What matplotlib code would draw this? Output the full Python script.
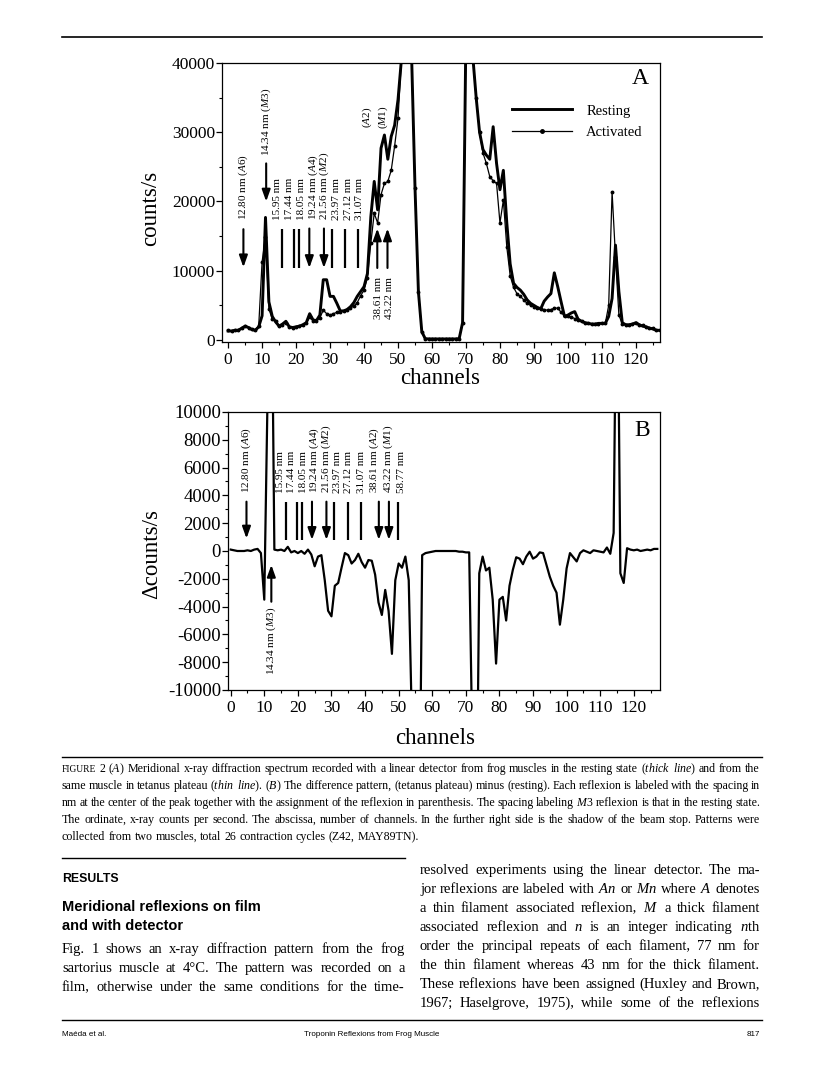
import re
import numpy as np
import matplotlib
matplotlib.use("Agg")
import matplotlib.pyplot as plt
from matplotlib.ticker import MultipleLocator

plt.rcParams['font.family'] = ['Liberation Serif', 'DejaVu Serif']
plt.rcParams['mathtext.fontset'] = 'custom'
plt.rcParams['mathtext.rm'] = 'Liberation Serif'
plt.rcParams['mathtext.it'] = 'Liberation Serif:italic'
plt.rcParams['mathtext.bf'] = 'Liberation Serif:bold'
plt.rcParams['axes.unicode_minus'] = False

# ---------------- data ----------------
channels = list(range(128))

resting = [1300, 1300, 1400, 1400, 1700, 2000, 1800, 1500, 1400, 1900,
           3500, 17700, 5500, 3400, 2600, 2000, 2300, 2700, 1900, 1800,
           1900, 2000, 2200, 2500, 3800, 2900, 2800, 3600, 8700, 8700,
           6300, 6300, 5300, 4200, 4200, 4400, 4800, 5400, 6300, 7000,
           7700, 9600, 17800, 22900, 18800, 27700, 29600, 26100, 29400, 31000,
           34700, 40500, 46000, 48000, 41000, 22000, 7000, 1200, 200, 150,
           150, 150, 150, 150, 150, 150, 150, 150, 200, 2500,
           45000, 46000, 41000, 35000, 30000, 27500, 26700, 26100, 30800, 25500,
           21700, 24500, 17000, 11000, 8200, 7600, 7200, 6600, 5800, 5300,
           5000, 4700, 4500, 5600, 6200, 6700, 9700, 7700, 5500, 3400,
           3600, 3900, 4100, 3000, 2700, 2500, 2400, 2300, 2300, 2400,
           2400, 2400, 3400, 6000, 13700, 7000, 2500, 2200, 2200, 2300,
           2500, 2200, 2000, 1900, 1700, 1600, 1400, 1400]

activated = [1400, 1300, 1400, 1500, 1700, 2000, 1800, 1600, 1500, 2000,
             11300, 14900, 4500, 3000, 2800, 2000, 2200, 2500, 1900, 1800,
             1900, 2000, 2100, 2400, 3300, 2800, 2800, 3200, 4300, 3800,
             3600, 3800, 4000, 4100, 4200, 4300, 4600, 4900, 5400, 6400,
             7200, 9000, 14000, 18300, 16900, 21000, 22600, 22900, 24500, 28000,
             32000, 40500, 46000, 48000, 41000, 22000, 7000, 1200, 200, 150,
             150, 150, 150, 150, 150, 150, 150, 150, 200, 2500,
             45000, 46000, 41000, 35000, 30000, 27000, 25500, 23600, 23000, 22600,
             16900, 20200, 13500, 9300, 7600, 6700, 6300, 5800, 5300, 5000,
             4800, 4600, 4500, 4400, 4300, 4400, 4600, 4600, 4000, 3500,
             3400, 3300, 3100, 2900, 2700, 2500, 2400, 2300, 2300, 2300,
             2400, 2400, 5000, 21400, 12000, 3600, 2300, 2200, 2200, 2300,
             2400, 2200, 2100, 1900, 1800, 1700, 1500, 1400]

difference = [100, 50, 0, 0, 0, 50, 0, 100, 150, -150,
              -3500, 11500, 25000, 100, 50, 100, 0, 300, -100, 0,
              -150, 0, -200, 100, -250, -1100, -400, -300, -2100, -4300,
              -4700, -2500, -2300, -1200, -150, -300, -900, -650, -200, -800,
              -1200, -650, -700, -1700, -3700, -4600, -2800, -4300, -7400, -2100,
              -900, -1200, -400, -2100, -13000, -25000, -25000, -300, -150, -100,
              -50, 0, 0, 0, 0, 0, 0, 0, -50, -50,
              -100, -100, -15000, -25000, -1600, -400, -1400, -1200, -3500, -8100,
              -3500, -3300, -5000, -2500, -1350, -450, -550, -950, -400, -50,
              -550, -400, -100, -150, -1000, -1850, -2500, -3000, -5300, -3500,
              -1250, -150, -450, -750, -150, 50, -50, -150, 50, 0,
              -50, -100, 250, -200, 1300, 25000, -1600, -2300, 200, 100,
              50, 100, 0, 50, 100, 50, 150, 150]

# reflexion markers and labels, panel A
A_MARK_CH = [4.5, 11.2, 16.0, 19.5, 21.0, 23.9, 28.2, 30.5, 34.4, 38.3, 43.9, 46.9]
A_MARK_KIND = ['down', 'down', 'bar', 'bar', 'bar', 'down', 'down', 'bar', 'bar', 'bar', 'up', 'up']
A_LABELS = ["12.80 nm (*A6*)", "14.34 nm (*M3*)", "15.95 nm", "17.44 nm", "18.05 nm",
            "19.24 nm (*A4*)", "21.56 nm (*M2*)", "23.97 nm", "27.12 nm", "31.07 nm",
            "38.61 nm", "43.22 nm", "(*A2*)", "(*M1*)"]
A_LABEL_CH = [4.5, 11.2, 14.6, 18.05, 21.5, 24.95, 28.4, 31.85, 35.3, 38.75, 44.2, 47.4, 40.9, 45.8]

# panel B
B_MARK_CH = [4.7, 12.1, 16.4, 19.8, 21.2, 24.2, 28.5, 30.7, 34.9, 38.7, 44.1, 47.1, 49.9]
B_MARK_KIND = ['down', 'up', 'bar', 'bar', 'bar', 'down', 'down', 'bar', 'bar', 'bar', 'down', 'down', 'bar']
B_LABELS = ["12.80 nm (*A6*)", "14.34 nm (*M3*)", "15.95 nm", "17.44 nm", "18.05 nm",
            "19.24 nm (*A4*)", "21.56 nm (*M2*)", "23.97 nm", "27.12 nm", "31.07 nm",
            "38.61 nm (*A2*)", "43.22 nm (*M1*)", "58.77 nm"]
B_LABEL_CH = [4.7, 12.1, 14.8, 18.2, 21.6, 24.9, 28.3, 31.7, 35.2, 38.8, 42.6, 46.8, 50.8]

CAPTION = [
    "#FIGURE 2 (*A*) Meridional x-ray diffraction spectrum recorded with a linear detector from frog muscles in the resting state (*thick* *line*) and from the",
    "same muscle in tetanus plateau (*thin* *line*). (*B*) The difference pattern, (tetanus plateau) minus (resting). Each reflexion is labeled with the spacing in",
    "nm at the center of the peak together with the assignment of the reflexion in parenthesis. The spacing labeling *M*3 reflexion is that in the resting state.",
    "The ordinate, x-ray counts per second. The abscissa, number of channels. In the further right side is the shadow of the beam stop. Patterns were",
    "collected from two muscles, total 26 contraction cycles (Z42, MAY89TN).",
]
LEFT_BODY = [
    "Fig. 1 shows an x-ray diffraction pattern from the frog",
    "sartorius muscle at 4°C. The pattern was recorded on a",
    "film, otherwise under the same conditions for the time-",
]
RIGHT_BODY = [
    "resolved experiments using the linear detector. The ma-",
    "jor reflexions are labeled with *An* or *Mn* where *A* denotes",
    "a thin filament associated reflexion, *M* a thick filament",
    "associated reflexion and *n* is an integer indicating *n*th",
    "order the principal repeats of each filament, 77 nm for",
    "the thin filament whereas 43 nm for the thick filament.",
    "These reflexions have been assigned (Huxley and Brown,",
    "1967; Haselgrove, 1975), while some of the reflexions",
]

# ---------------- figure ----------------
W, H = 816, 1075
fig = plt.figure(figsize=(W / 100, H / 100), dpi=100)
renderer = fig.canvas.get_renderer()


def px_axes(left, top, right, bottom):
    return fig.add_axes([left / W, 1 - bottom / H, (right - left) / W, (bottom - top) / H])


def md(w):
    return re.sub(r'\*(.+?)\*', lambda m: r'$\mathit{' + m.group(1) + '}$', w)


def style_axes(ax, ymajor, yminor, ylabsize):
    for s in ax.spines.values():
        s.set_linewidth(0.9)
    ax.xaxis.set_major_locator(MultipleLocator(10))
    ax.xaxis.set_minor_locator(MultipleLocator(5))
    ax.yaxis.set_major_locator(MultipleLocator(ymajor))
    ax.yaxis.set_minor_locator(MultipleLocator(yminor))
    ax.tick_params(which='major', direction='out', length=4.5, width=0.9, pad=2)
    ax.tick_params(which='minor', direction='out', length=2.5, width=0.8)
    ax.tick_params(axis='x', labelsize=12.5, pad=3)
    ax.tick_params(axis='y', labelsize=ylabsize, pad=0.5)


def draw_marks(ax, chs, kinds, y_lo, y_hi, special=None):
    for i, (c, k) in enumerate(zip(chs, kinds)):
        lo, hi = y_lo, y_hi
        if special and i in special:
            lo, hi = special[i]
        if k == 'bar':
            ax.plot([c, c], [lo, hi], color='k', lw=1.6, solid_capstyle='butt')
        else:
            tip, tail = (lo, hi) if k == 'down' else (hi, lo)
            ax.annotate('', xy=(c, tip), xytext=(c, tail),
                        arrowprops=dict(arrowstyle='-|>,head_length=0.7,head_width=0.25',
                                        lw=1.5, color='k', shrinkA=0, shrinkB=0,
                                        mutation_scale=10))


fsA = 8.0

# ---- panel A ----
axA = px_axes(222, 63, 660, 342)
axA.plot(channels, resting, color='k', lw=2.1, solid_joinstyle='round', label='Resting', zorder=3)
axA.plot(channels, activated, color='k', lw=0.9, marker='o', markersize=1.8,
         label='Activated', zorder=4)
axA.set_xlim(-1.8, 127.1)
axA.set_ylim(-290, 40000)
style_axes(axA, 10000, 5000, 12.5)
axA.set_xlabel('channels', fontsize=16.5)
axA.xaxis.set_label_coords(0.498, -0.092)
axA.set_ylabel('counts/s', fontsize=16.5)
axA.yaxis.set_label_coords(-0.140, 0.48)
axA.text(0.955, 0.982, 'A', transform=axA.transAxes, fontsize=17, ha='center', va='top')
leg = axA.legend(loc='upper left', bbox_to_anchor=(0.662, 0.852), frameon=False,
                 fontsize=10.5, handlelength=4.1, handletextpad=1.0, labelspacing=0.55,
                 numpoints=1, borderpad=0, borderaxespad=0)
for lh in leg.get_lines():
    lh.set_markersize(2.5)

draw_marks(axA, A_MARK_CH, A_MARK_KIND, 10400, 16100,
           special={0: (10500, 16000), 1: (20000, 25500)})
for i, (lab, c) in enumerate(zip(A_LABELS, A_LABEL_CH)):
    if i == 1:
        axA.text(c, 26500, md(lab), rotation=90, ha='center', va='bottom', fontsize=fsA)
    elif i in (10, 11):
        axA.text(c, 9100, md(lab), rotation=90, ha='center', va='top', fontsize=fsA)
    elif i in (12, 13):
        axA.text(c, 32150, md(lab), rotation=90, ha='center', va='center', fontsize=fsA)
    else:
        axA.text(c, 17300, md(lab), rotation=90, ha='center', va='bottom', fontsize=fsA)

# ---- panel B ----
axB = px_axes(228, 412, 660, 690)
axB.plot(channels, difference, color='k', lw=1.6, solid_joinstyle='round')
axB.set_xlim(-0.8, 127.8)
axB.set_ylim(-10000, 10000)
style_axes(axB, 2000, 1000, 13.5)
axB.set_xlabel('channels', fontsize=16.5)
axB.xaxis.set_label_coords(0.480, -0.135)
axB.set_ylabel('\u0394counts/s', fontsize=16.5)
axB.yaxis.set_label_coords(-0.153, 0.49)
axB.text(0.958, 0.971, 'B', transform=axB.transAxes, fontsize=17, ha='center', va='top')
draw_marks(axB, B_MARK_CH, B_MARK_KIND, 800, 3550,
           special={0: (900, 3550), 1: (-3650, -1000)})
for i, (lab, c) in enumerate(zip(B_LABELS, B_LABEL_CH)):
    if i == 1:
        axB.text(c, -4000, md(lab), rotation=90, ha='center', va='top', fontsize=fsA)
    else:
        axB.text(c, 4150, md(lab), rotation=90, ha='center', va='bottom', fontsize=fsA)

# ---------------- page text ----------------
def hrule(y, x0, x1, lw=1.0):
    fig.add_artist(plt.Line2D([x0 / W, x1 / W], [1 - y / H, 1 - y / H],
                              transform=fig.transFigure, color='k', lw=lw))


def make_words(line, fs, family):
    objs = []
    for w in line.split():
        size = fs
        if w.startswith('#'):
            w = w[1:]
            size = fs * 0.8
        t = fig.text(0, 0, md(w), fontsize=size, family=family, va='baseline', ha='left')
        objs.append(t)
    return objs


def fit_size(lines, width, fs, family, min_gap=0.2):
    best = fs
    for line in lines:
        objs = make_words(line, fs, family)
        tot = sum(t.get_window_extent(renderer).width for t in objs)
        for t in objs:
            t.remove()
        need = tot + (len(objs) - 1) * fs * 100 / 72 * min_gap
        if need > width:
            best = min(best, fs * width / need)
    return best


def put_block(lines, x0, x1, y0, dy, fs, family, justify_last=False, min_gap=0.2):
    fs = fit_size(lines, x1 - x0, fs, family, min_gap)
    for k, line in enumerate(lines):
        objs = make_words(line, fs, family)
        widths = [t.get_window_extent(renderer).width for t in objs]
        last = (k == len(lines) - 1)
        if len(objs) > 1 and (not last or justify_last):
            gap = (x1 - x0 - sum(widths)) / (len(objs) - 1)
        else:
            gap = fs * 100 / 72 * 0.25
        x = x0
        yb = y0 + k * dy
        for t, wd in zip(objs, widths):
            t.set_position((x / W, 1 - yb / H))
            x += wd + gap


hrule(37, 62, 762, 1.2)
hrule(757, 62, 762, 1.0)
put_block(CAPTION, 62, 760, 772, 17, 8.6, 'Liberation Serif', min_gap=0.15)
hrule(858, 62, 405, 1.0)
fig.text(62 / W, 1 - 882 / H, 'RESULTS', fontsize=8.8, family='Liberation Sans',
         weight='bold', va='baseline')
fig.text(62 / W, 1 - 911 / H, 'Meridional reflexions on film', fontsize=10.5,
         family='Liberation Sans', weight='bold', va='baseline')
fig.text(62 / W, 1 - 930 / H, 'and with detector', fontsize=10.5,
         family='Liberation Sans', weight='bold', va='baseline')
put_block(LEFT_BODY, 62, 405, 953, 19, 10.5, 'Liberation Serif', justify_last=True)
put_block(RIGHT_BODY, 420, 760, 874, 19, 10.5, 'Liberation Serif', justify_last=True)
hrule(1020, 62, 762, 1.0)
fig.text(62 / W, 1 - 1036 / H, 'Maéda et al.', fontsize=5.8, family='Liberation Sans', va='baseline')
fig.text(372 / W, 1 - 1036 / H, 'Troponin Reflexions from Frog Muscle', fontsize=5.8,
         family='Liberation Sans', va='baseline', ha='center')
fig.text(760 / W, 1 - 1036 / H, '817', fontsize=5.8, family='Liberation Sans',
         va='baseline', ha='right')

fig.savefig('out.png', dpi=100)
